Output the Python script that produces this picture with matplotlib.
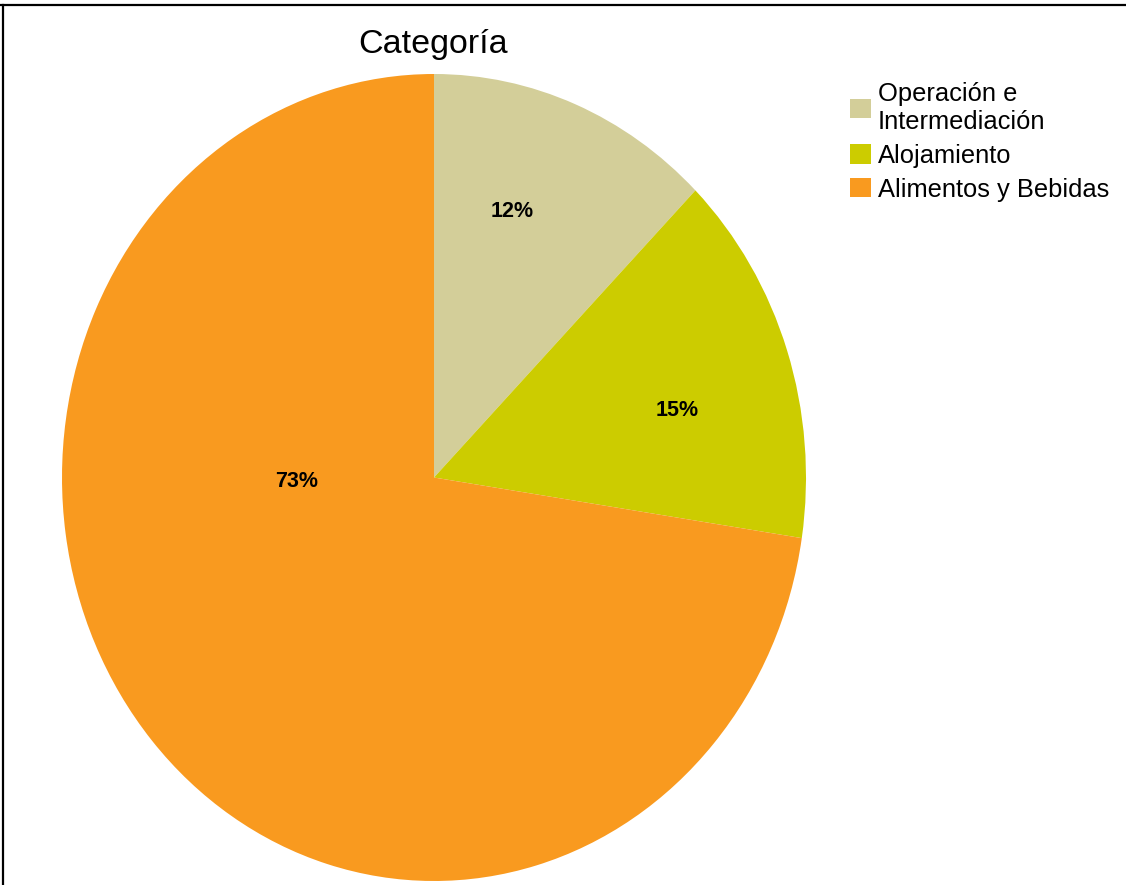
import matplotlib
matplotlib.use('Agg')
import matplotlib.pyplot as plt
from matplotlib.lines import Line2D
from matplotlib.patches import Patch

plt.rcParams['font.family'] = ['Liberation Sans', 'DejaVu Sans']

# datos
categorias = ['Operación e\nIntermediación', 'Alojamiento', 'Alimentos y Bebidas']
porcentajes = [12.4, 15.0, 72.6]
colores = ['#D3CE99', '#CCCC00', '#F99A1F']

# posición de las etiquetas dentro de cada porción (x, y en coordenadas del eje)
pos_etiquetas = [(0.21, 0.66), (0.655, 0.165), (-0.37, -0.01)]

W, H = 1126, 885
fig = plt.figure(figsize=(W / 100, H / 100), dpi=100)

# el pastel original está algo estirado en vertical, así que aspecto 'auto'
ax = fig.add_axes([62 / W, 4 / H, 744 / W, 807 / H])
wedges, textos, autotextos = ax.pie(
    porcentajes, colors=colores, startangle=90, counterclock=False,
    autopct='%.0f%%', wedgeprops=dict(linewidth=0),
    textprops=dict(fontsize=15.5, fontweight='bold', color='black'))
for t, (x, y) in zip(autotextos, pos_etiquetas):
    t.set_position((x, y))
ax.set_aspect('auto')
ax.set_xlim(-1, 1)
ax.set_ylim(-1, 1)

fig.text(433 / W, 1 - 44 / H, 'Categoría', ha='center', va='center', fontsize=24.5)

handles = [Patch(facecolor=c, edgecolor='none') for c in colores]
leg = fig.legend(handles, categorias, loc='upper left', bbox_to_anchor=(850 / W, 1 - 82 / H),
                 frameon=False, fontsize=18.4, handlelength=0.82, handleheight=0.8,
                 handletextpad=0.27, labelspacing=0.38, borderpad=0, borderaxespad=0)
for t in leg.get_texts():
    t.set_linespacing(1.22)

# marco superior e izquierdo
fig.add_artist(Line2D([0, 1], [1 - 5 / H] * 2, transform=fig.transFigure, color='black', lw=1.6))
fig.add_artist(Line2D([3 / W] * 2, [0, 1 - 5 / H], transform=fig.transFigure, color='black', lw=1.6))

fig.savefig('out.png', dpi=100)
